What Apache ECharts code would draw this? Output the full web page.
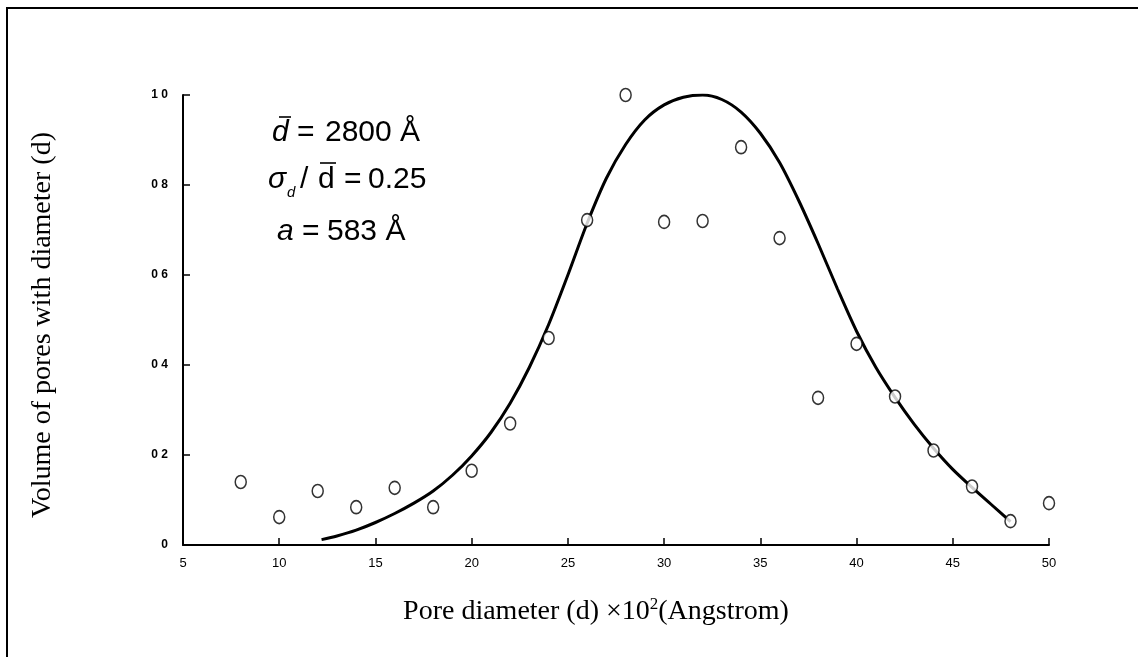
<!DOCTYPE html>
<html>
<head>
<meta charset="utf-8">
<script src="https://cdn.jsdelivr.net/npm/echarts@6/dist/echarts.min.js"></script>
<style>
html,body{margin:0;padding:0;background:#fff;}
#chart{width:1138px;height:657px;}
</style>
</head>
<body>
<div id="chart"></div>
<script>
// Measured pore volume data (x = pore diameter ×10² Å)
const pointX = [8, 10, 12, 14, 16, 18, 20, 22, 24, 26, 28, 30, 32, 34, 36, 38, 40, 42, 44, 46, 48, 50];
const pointY = [0.14, 0.062, 0.12, 0.084, 0.127, 0.084, 0.165, 0.27, 0.46, 0.722, 1.0, 0.718, 0.72, 0.884, 0.682, 0.327, 0.447, 0.33, 0.21, 0.13, 0.053, 0.093];

// Fitted distribution curve
const curveX = [12.2, 13, 14, 15, 16, 17, 18, 19, 20, 21, 22, 23, 24, 25, 26, 27, 28, 29, 30, 31, 32, 33, 34, 35, 36, 37, 38, 39, 40, 41, 42, 43, 44, 45, 46, 47, 48];
const curveY = [0.012, 0.02, 0.033, 0.05, 0.07, 0.093, 0.12, 0.155, 0.198, 0.25, 0.315, 0.395, 0.49, 0.6, 0.715, 0.815, 0.89, 0.945, 0.978, 0.995, 1.0, 0.99, 0.962, 0.915, 0.85, 0.765, 0.67, 0.57, 0.475, 0.395, 0.328, 0.268, 0.215, 0.168, 0.128, 0.09, 0.052];

const yTickLabels = {'0': '0', '0.2': '0 2', '0.4': '0 4', '0.6': '0 6', '0.8': '0 8', '1': '1 0'};

const SANS = '"Liberation Sans", Arial, sans-serif';
const SERIF = '"Liberation Serif", "Times New Roman", serif';

function txt(x, y, s, font) {
  return {type: 'text', x: x, y: y, style: {text: s, fill: '#000', font: font, verticalAlign: 'bottom'}};
}
function bar(x1, x2, y) {
  return {type: 'line', shape: {x1: x1, y1: y, x2: x2, y2: y}, style: {stroke: '#000', lineWidth: 1.6}};
}

const chart = echarts.init(document.getElementById('chart'), null, {renderer: 'canvas'});
const axisStyle = {show: true, lineStyle: {color: '#000', width: 2}};
chart.setOption({
  backgroundColor: '#fff',
  animation: false,
  grid: {left: 183, right: 89, top: 95, bottom: 112},
  xAxis: {
    type: 'value', min: 5, max: 50, interval: 5,
    axisLine: axisStyle,
    axisTick: {show: true, inside: true, length: 7, lineStyle: {color: '#000', width: 1.5}},
    splitLine: {show: false},
    axisLabel: {color: '#000', fontFamily: SANS, fontSize: 13, margin: 12}
  },
  yAxis: {
    type: 'value', min: 0, max: 1, interval: 0.2,
    axisLine: axisStyle,
    axisTick: {show: true, inside: true, length: 7, lineStyle: {color: '#000', width: 1.5}},
    splitLine: {show: false},
    axisLabel: {color: '#000', fontFamily: SANS, fontSize: 12, fontWeight: 'bold', margin: 15,
      formatter: v => yTickLabels[String(+v.toFixed(1))] || ''}
  },
  series: [
    {
      type: 'line', data: curveX.map((x, i) => [x, curveY[i]]), smooth: 0.3,
      showSymbol: false, lineStyle: {color: '#000', width: 3}, z: 2
    },
    {
      type: 'scatter', data: pointX.map((x, i) => [x, pointY[i]]),
      symbol: 'circle', symbolSize: [11, 13],
      itemStyle: {color: '#fff', borderColor: '#000', borderWidth: 1.6}, z: 3
    }
  ],
  graphic: [
    {type: 'rect', shape: {x: 7, y: 8, width: 1200, height: 700}, style: {fill: 'none', stroke: '#000', lineWidth: 2}, z: 0},
    {type: 'text', x: 43, y: 325, rotation: Math.PI / 2, style: {
      text: 'Volume of pores with diameter (d)', fill: '#000',
      font: '28px ' + SERIF, align: 'center', verticalAlign: 'middle'}},
    {type: 'text', x: 596, y: 611, style: {
      text: '{t|Pore diameter (d) ×10}{s|2}{t|(Angstrom)}', align: 'center', verticalAlign: 'middle',
      rich: {
        t: {font: '28px ' + SERIF, fill: '#000', verticalAlign: 'bottom'},
        s: {font: '17px ' + SERIF, fill: '#000', verticalAlign: 'top', padding: [0, 0, 13, 0]}
      }}},
    // annotation line 1
    txt(272, 148, 'd', 'italic 30px ' + SANS),
    bar(279, 291, 117),
    txt(297, 148, '=', '30px ' + SANS),
    txt(325, 148, '2800 Å', '30px ' + SANS),
    // annotation line 2
    txt(268, 195, 'σ', 'italic 30px ' + SANS),
    txt(287, 200, 'd', 'italic 15px ' + SANS),
    txt(300, 195, '/', '30px ' + SANS),
    txt(318, 195, 'd', '30px ' + SANS),
    bar(320, 336, 163),
    txt(344, 195, '=', '30px ' + SANS),
    txt(368, 195, '0.25', '30px ' + SANS),
    // annotation line 3
    txt(277, 247, 'a', 'italic 30px ' + SANS),
    txt(302, 247, '=', '30px ' + SANS),
    txt(327, 247, '583 Å', '30px ' + SANS)
  ]
});
</script>
</body>
</html>
